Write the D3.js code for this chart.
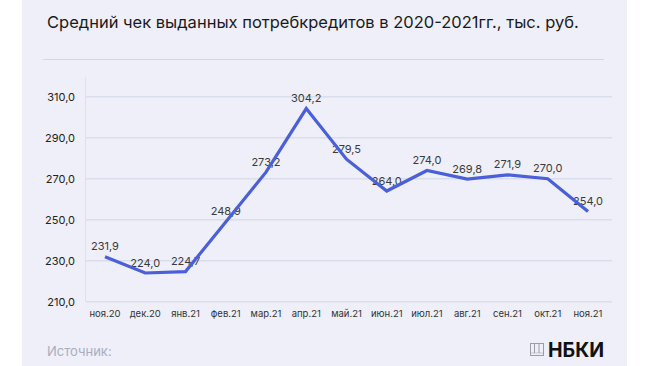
<html>
<head>
  <meta charset="UTF-8">
  <title>Средний чек</title>
  <script src="https://d3js.org/d3.v7.min.js"></script>
  <style>
    body { margin: 0; background: #ffffff; }
    text { font-family: Inter, "Noto Sans", sans-serif; }
  </style>
</head>
<body>
  <svg id="chart" width="650" height="366"></svg>
  <script>
    // data
    const months = ["ноя.20", "дек.20", "янв.21", "фев.21", "мар.21", "апр.21", "май.21",
                    "июн.21", "июл.21", "авг.21", "сен.21", "окт.21", "ноя.21"];
    const values = [231.9, 224.0, 224.7, 248.9, 273.2, 304.2, 279.5, 264.0, 274.0, 269.8, 271.9, 270.0, 254.0];
    const yTicks = [210, 230, 250, 270, 290, 310];

    const svg = d3.select("#chart");
    const fmt = v => d3.format(".1f")(v).replace(".", ",");

    // panel
    svg.append("rect").attr("x", 22).attr("y", 0).attr("width", 605).attr("height", 366)
       .attr("fill", "#eeeff8");

    svg.append("text").attr("x", 47).attr("y", 28)
       .attr("font-size", 16.5).attr("fill", "#1a1a1a")
       .text("Средний чек выданных потребкредитов в 2020-2021гг., тыс. руб.");

    svg.append("line").attr("x1", 43).attr("x2", 604).attr("y1", 59.5).attr("y2", 59.5)
       .attr("stroke", "#d3d7e6").attr("stroke-width", 1.2);

    const x = d3.scalePoint().domain(months).range([105, 588]);
    const y = d3.scaleLinear().domain([210, 310]).range([301.7, 96.7]);

    // grid
    svg.append("g").selectAll("line").data(yTicks).join("line")
       .attr("x1", 86).attr("x2", 612)
       .attr("y1", d => y(d)).attr("y2", d => y(d))
       .attr("stroke", "#d9ddec").attr("stroke-width", 1.5);

    svg.append("line").attr("x1", 85.5).attr("x2", 85.5).attr("y1", 77).attr("y2", y(210))
       .attr("stroke", "#dde0ee").attr("stroke-width", 1);

    svg.append("g").selectAll("text").data(yTicks).join("text")
       .attr("x", 75).attr("y", d => y(d) + 4)
       .attr("text-anchor", "end").attr("font-size", 11).attr("fill", "#222")
       .text(d => fmt(d));

    svg.append("g").selectAll("text").data(months).join("text")
       .attr("x", d => x(d)).attr("y", 317)
       .attr("text-anchor", "middle").attr("font-size", 9.5).attr("fill", "#333")
       .text(d => d);

    // value labels (under the line)
    svg.append("g").selectAll("text").data(values).join("text")
       .attr("x", (d, i) => x(months[i])).attr("y", d => y(d) - 6.5)
       .attr("text-anchor", "middle").attr("font-size", 11).attr("fill", "#3a3a3a")
       .text(d => fmt(d));

    const line = d3.line().x((d, i) => x(months[i])).y(d => y(d));
    svg.append("path").datum(values).attr("d", line)
       .attr("fill", "none").attr("stroke", "#4a5fd8").attr("stroke-width", 3.2)
       .attr("stroke-linejoin", "miter");

    // footer
    svg.append("text").attr("x", 47).attr("y", 356)
       .attr("font-size", 13).attr("fill", "#a9adbf").text("Источник:");

    const logo = svg.append("g").attr("transform", "translate(530,343)");
    logo.append("rect").attr("x", 0.5).attr("y", 0.5).attr("width", 13).attr("height", 12)
        .attr("fill", "none").attr("stroke", "#9a9da8").attr("stroke-width", 1);
    [4.5, 9].forEach(px => logo.append("line").attr("x1", px).attr("x2", px).attr("y1", 0.5).attr("y2", 10)
        .attr("stroke", "#9a9da8").attr("stroke-width", 1));
    logo.append("line").attr("x1", 0.5).attr("x2", 13.5).attr("y1", 10).attr("y2", 10)
        .attr("stroke", "#9a9da8").attr("stroke-width", 1).attr("stroke-dasharray", "1,1");

    svg.append("text").attr("x", 548).attr("y", 356.5)
       .attr("font-size", 19.5).attr("font-weight", 700).attr("fill", "#111").text("НБКИ");
  </script>
</body>
</html>
